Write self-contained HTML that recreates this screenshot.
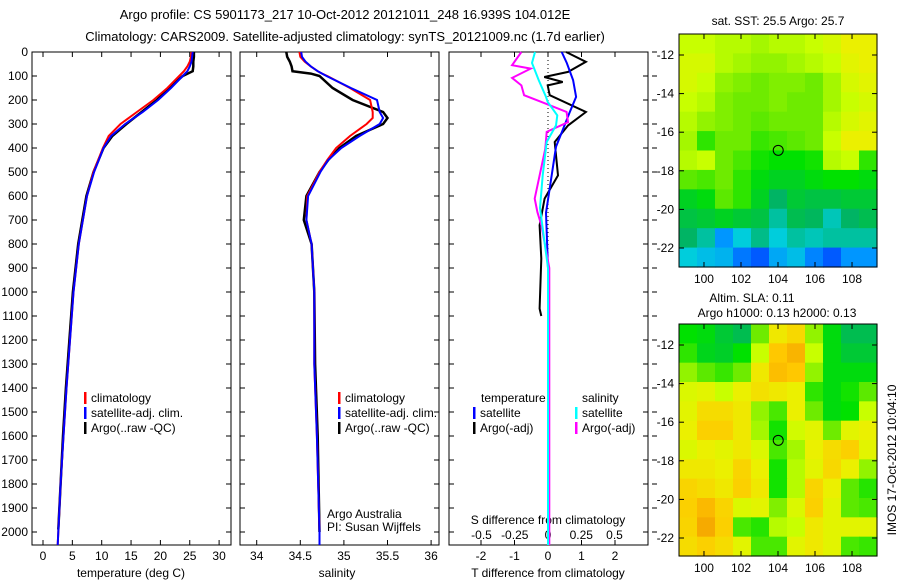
<!DOCTYPE html>
<html><head><meta charset="utf-8"><style>
html,body{margin:0;padding:0;background:#fff;}
svg{display:block;font-family:"Liberation Sans",sans-serif;}
text{font-size:12px;fill:#000;}
</style></head><body>
<svg id="fig" width="900" height="580" viewBox="0 0 900 580" xmlns="http://www.w3.org/2000/svg">
<text x="345" y="19" text-anchor="middle" style="font-size:13px">Argo profile: CS 5901173_217 10-Oct-2012 20121011_248 16.939S 104.012E</text>
<text x="345" y="41" text-anchor="middle" style="font-size:13px">Climatology: CARS2009. Satellite-adjusted climatology: synTS_20121009.nc (1.7d earlier)</text>
<g id="g"></g>
</svg>
<script>
// ---------- data ----------
const tDepth=[0,20,40,60,80,100,150,200,250,300,350,400,500,600,700,800,1000,1200,1400,1600,1800,2000,2060];
const tClim=[25.3,25.2,25.0,24.6,24.0,23.2,21.2,18.8,16.0,13.2,11.2,10.2,8.6,7.5,6.8,6.1,5.2,4.6,4.0,3.5,3.0,2.6,2.5];
const tSat=[25.5,25.4,25.3,25.0,24.6,23.8,21.8,19.6,17.0,14.0,11.6,10.3,8.7,7.5,6.8,6.1,5.2,4.6,4.0,3.5,3.0,2.6,2.5];
const tArgoDepth=[0,20,40,60,80,100,150,200,250,300,350,400,500,600,700,800,1000,1200,1400,1600,1800,1990];
const tArgo=[25.7,25.7,25.6,25.6,25.5,23.8,21.4,19.4,16.8,14.2,11.8,10.3,8.6,7.4,6.7,6.0,5.1,4.5,3.9,3.4,3.0,2.6];
const sDepth=[0,20,40,60,80,90,100,150,200,250,275,300,350,400,450,500,600,700,800,1000,1300,1600,2000,2060];
const sClim=[34.49,34.50,34.55,34.62,34.70,34.75,34.81,35.07,35.30,35.33,35.33,35.26,35.07,34.91,34.81,34.72,34.58,34.57,34.63,34.66,34.66,34.69,34.72,34.72];
const sSat=[34.51,34.52,34.56,34.62,34.70,34.75,34.80,35.08,35.38,35.41,35.45,35.41,35.18,34.97,34.82,34.73,34.59,34.57,34.63,34.66,34.66,34.69,34.72,34.72];
const sArgo=[34.34,34.35,34.38,34.40,34.41,34.62,34.72,34.87,35.10,35.45,35.50,35.45,35.14,34.95,34.82,34.72,34.57,34.54,34.63,34.66,34.67,34.70,34.72,34.72];
const dTSatDepth=[0,46,117,187,254,325,395,533,670,900,1300,2060];
const dTSat=[0.41,0.56,0.75,0.84,0.64,0.44,0.24,0.09,-0.06,0,0,0];
const dTArgoDepth=[0,41,83,104,125,139,180,250,306,375,514,611,722,861,1069,1100];
const dTArgo=[0.54,1.13,0.6,-0.11,0.44,-0.01,0.05,1.13,0.6,0.2,0.3,-0.1,-0.25,-0.2,-0.25,-0.2];
const dSSatDepth=[0,46,117,187,208,264,306,375,514,650,900,2060];
const dSSat=[-0.098,-0.12,-0.07,-0.015,-0.002,0.07,0.06,-0.01,-0.04,-0.06,0,0];
const dSArgoDepth=[0,55,69,108,139,180,208,250,292,333,403,611,667,722,900,2060];
const dSArgo=[-0.2,-0.27,-0.13,-0.27,-0.2,-0.18,-0.05,0.14,0.15,-0.01,-0.02,-0.1,-0.08,-0.05,0.01,0.01];
const depthTicks=[0,100,200,300,400,500,600,700,800,900,1000,1100,1200,1300,1400,1500,1600,1700,1800,1900,2000];
const tempTicks=[0,5,10,15,20,25,30];
const salTicks=[34,34.5,35,35.5,36];
const tdTicks=[-2,-1,0,1,2];
const sdTicks=[-0.5,-0.25,0,0.25,0.5];
const sdTickLabels=["-0.5","-0.25","0","0.25","0.5"];
const lonTicks=[100,102,104,106,108];
const latTicks=[-12,-14,-16,-18,-20,-22];
const sstGrid=[
[0.72,0.72,0.70,0.70,0.68,0.70,0.70,0.72,0.75,0.80,0.80],
[0.75,0.75,0.70,0.68,0.66,0.66,0.68,0.70,0.72,0.78,0.80],
[0.75,0.72,0.66,0.64,0.62,0.64,0.64,0.62,0.68,0.75,0.78],
[0.72,0.70,0.64,0.62,0.62,0.64,0.62,0.62,0.68,0.72,0.75],
[0.70,0.66,0.64,0.62,0.60,0.62,0.62,0.62,0.70,0.75,0.78],
[0.68,0.55,0.62,0.62,0.56,0.58,0.60,0.62,0.72,0.80,0.80],
[0.70,0.72,0.62,0.58,0.52,0.50,0.50,0.52,0.70,0.72,0.55],
[0.60,0.58,0.62,0.55,0.48,0.45,0.45,0.48,0.50,0.50,0.48],
[0.45,0.48,0.60,0.55,0.45,0.35,0.42,0.40,0.40,0.42,0.42],
[0.40,0.42,0.45,0.42,0.40,0.30,0.38,0.36,0.28,0.35,0.38],
[0.35,0.30,0.15,0.25,0.32,0.25,0.30,0.28,0.30,0.30,0.30],
[0.25,0.22,0.20,0.10,0.05,0.18,0.22,0.12,0.05,0.15,0.15]];
const slaGrid=[
[0.50,0.48,0.42,0.38,0.62,0.82,0.86,0.66,0.48,0.38,0.38],
[0.55,0.46,0.44,0.50,0.72,0.90,0.94,0.72,0.48,0.42,0.42],
[0.66,0.60,0.56,0.62,0.82,0.92,0.90,0.66,0.48,0.48,0.48],
[0.76,0.78,0.72,0.80,0.84,0.82,0.80,0.55,0.48,0.52,0.60],
[0.78,0.85,0.85,0.82,0.66,0.58,0.80,0.62,0.48,0.50,0.72],
[0.80,0.88,0.88,0.82,0.68,0.52,0.74,0.78,0.62,0.78,0.80],
[0.76,0.80,0.78,0.82,0.76,0.58,0.68,0.80,0.85,0.88,0.78],
[0.82,0.82,0.80,0.87,0.80,0.52,0.70,0.78,0.86,0.80,0.66],
[0.87,0.85,0.82,0.88,0.82,0.52,0.70,0.87,0.80,0.60,0.54],
[0.88,0.93,0.87,0.76,0.78,0.64,0.76,0.88,0.78,0.60,0.58],
[0.87,0.96,0.88,0.58,0.54,0.70,0.72,0.82,0.78,0.78,0.78],
[0.85,0.88,0.85,0.78,0.58,0.58,0.78,0.82,0.78,0.58,0.56]];
const argoLon=104.012, argoLat=-16.939;

// ---------- helpers ----------
const NS="http://www.w3.org/2000/svg";
const G=document.getElementById('g');
function mk(tag,attrs,parent){const e=document.createElementNS(NS,tag);for(const k in attrs)e.setAttribute(k,attrs[k]);(parent||G).appendChild(e);return e;}
function txt(s,x,y,anchor,name){const e=mk('text',{x:x,y:y,'text-anchor':anchor||'start'});e.textContent=s;


return e;}
const yD=d=>52+d*0.24;
const BOT=545;
const xT=t=>43+t*5.87;
const xS=s=>256.7+(s-34)*87.2;
const xTd=t=>548+t*33.5;
const xSd=s=>548+s*133;
function line(xs,ds,fx,color,name,w){
  const pts=xs.map((v,i)=>fx(v).toFixed(1)+','+Math.min(BOT,yD(ds[i])).toFixed(1)).join(' ');
  const p=mk('polyline',{points:pts,fill:'none',stroke:color,'stroke-width':w||2});
  
  
}
function frame(x0,x1,name){
  const r=mk('rect',{x:x0,y:52,width:x1-x0,height:BOT-52,fill:'none',stroke:'#000','stroke-width':1});
  
  
  depthTicks.forEach(d=>{mk('line',{x1:x0,x2:x0+5,y1:yD(d),y2:yD(d),stroke:'#000'});mk('line',{x1:x1,x2:x1-5,y1:yD(d),y2:yD(d),stroke:'#000'});});
}
// ---------- panel 1 temperature ----------
frame(32,231,'temperature-panel-frame');
depthTicks.forEach(d=>txt(String(d),28,yD(d)+4,'end','depth-tick-label'));
tempTicks.forEach(t=>{mk('line',{x1:xT(t),x2:xT(t),y1:52,y2:57,stroke:'#000'});mk('line',{x1:xT(t),x2:xT(t),y1:BOT,y2:BOT-5,stroke:'#000'});txt(String(t),xT(t),560,'middle','temperature-tick-label');});
txt('temperature (deg C)',131,577,'middle','temperature-axis-title');
line(tArgo,tArgoDepth,xT,'#000','temperature-argo-line',2.5);
line(tClim,tDepth,xT,'#f00','temperature-climatology-line');
line(tSat,tDepth,xT,'#00f','temperature-satellite-line');
// ---------- panel 2 salinity ----------
frame(240,439,'salinity-panel-frame');
salTicks.forEach(s=>{mk('line',{x1:xS(s),x2:xS(s),y1:52,y2:57,stroke:'#000'});mk('line',{x1:xS(s),x2:xS(s),y1:BOT,y2:BOT-5,stroke:'#000'});txt(String(s),xS(s),560,'middle','salinity-tick-label');});
txt('salinity',337,577,'middle','salinity-axis-title');
line(sArgo.slice(0,23),sDepth.slice(0,23),xS,'#000','salinity-argo-line',2.5);
line(sClim,sDepth,xS,'#f00','salinity-climatology-line');
line(sSat,sDepth,xS,'#00f','salinity-satellite-line');
txt('Argo Australia',327,518,'start','credit-argo-australia');
txt('PI: Susan Wijffels',327,531,'start','credit-pi');
// ---------- panel 3 differences ----------
frame(449,648,'difference-panel-frame');
mk('line',{x1:548,x2:548,y1:52,y2:BOT,stroke:'#000','stroke-dasharray':'1,3'});
tdTicks.forEach(t=>{mk('line',{x1:xTd(t),x2:xTd(t),y1:52,y2:57,stroke:'#000'});mk('line',{x1:xTd(t),x2:xTd(t),y1:BOT,y2:BOT-5,stroke:'#000'});txt(String(t),xTd(t),560,'middle','tdiff-tick-label');});
sdTicks.forEach((s,i)=>txt(sdTickLabels[i],xSd(s),539,'middle','sdiff-tick-label'));
txt('S difference from climatology',548,524,'middle','sdiff-axis-title');
txt('T difference from climatology',548,577,'middle','tdiff-axis-title');
line(dTArgo,dTArgoDepth,xTd,'#000','tdiff-argo-line');
line(dTSat,dTSatDepth,xTd,'#00f','tdiff-satellite-line');
line(dSArgo,dSArgoDepth,xSd,'#f0f','sdiff-argo-line');
line(dSSat,dSSatDepth,xSd,'#0ff','sdiff-satellite-line');
// right-side ticks
depthTicks.forEach(d=>mk('line',{x1:652,x2:657,y1:yD(d),y2:yD(d),stroke:'#000'}));
// ---------- legends ----------
function leg(x,y,color,label,name){mk('rect',{x:x,y:y-10,width:2.5,height:12,fill:color});txt(label,x+7,y,'start',name);}
leg(84,402,'#f00','climatology','legend-climatology');
leg(84,417,'#00f','satellite-adj. clim.','legend-satellite');
leg(84,432,'#000','Argo(..raw -QC)','legend-argo');
leg(338,402,'#f00','climatology','legend2-climatology');
leg(338,417,'#00f','satellite-adj. clim.','legend2-satellite');
leg(338,432,'#000','Argo(..raw -QC)','legend2-argo');
txt('temperature',481,402,'start','legend-temperature-header');
txt('salinity',582,402,'start','legend-salinity-header');
leg(473,417,'#00f','satellite','legend-t-satellite');
leg(473,432,'#000','Argo(-adj)','legend-t-argo');
leg(575,417,'#0ff','satellite','legend-s-satellite');
leg(575,432,'#f0f','Argo(-adj)','legend-s-argo');
// ---------- maps ----------
const stops=[[0,[0,60,255]],[0.15,[0,150,255]],[0.25,[0,205,220]],[0.35,[0,180,100]],[0.5,[0,225,0]],[0.62,[110,235,0]],[0.72,[200,255,0]],[0.8,[235,240,0]],[0.9,[255,200,0]],[1,[240,150,0]]];
function cmap(v){for(let i=1;i<stops.length;i++){if(v<=stops[i][0]){const a=stops[i-1],b=stops[i],f=(v-a[0])/(b[0]-a[0]);const c=a[1].map((q,j)=>Math.round(q+(b[1][j]-q)*f));return 'rgb('+c.join(',')+')';}}return 'rgb(240,150,0)';}
const mapX0=679,mapX1=877,lonL=98.65,lonR=109.35;
const xLon=l=>mapX0+(l-lonL)*(mapX1-mapX0)/(lonR-lonL);
function drawMap(grid,y0,y1,name,ylat12){
  const yLat=la=>ylat12+(-12-la)*19.3;
  const rows=grid.length,cols=grid[0].length,cw=(mapX1-mapX0)/cols,ch=(y1-y0)/rows;
  grid.forEach((row,r)=>row.forEach((v,c)=>{const e=mk('rect',{x:(mapX0+c*cw).toFixed(2),y:(y0+r*ch).toFixed(2),width:(cw+0.6).toFixed(2),height:(ch+0.6).toFixed(2),fill:cmap(v)});
    
    }));
  const f=mk('rect',{x:mapX0,y:y0,width:mapX1-mapX0,height:y1-y0,fill:'none',stroke:'#000'});
  
  
  latTicks.forEach(la=>{const y=yLat(la);mk('line',{x1:mapX0,x2:mapX0+5,y1:y,y2:y,stroke:'#000'});mk('line',{x1:mapX1,x2:mapX1-5,y1:y,y2:y,stroke:'#000'});txt(String(la),674,y+4,'end',name+'-lat-label');});
  lonTicks.forEach(lo=>{const x=xLon(lo);mk('line',{x1:x,x2:x,y1:y0,y2:y0+5,stroke:'#000'});mk('line',{x1:x,x2:x,y1:y1,y2:y1-5,stroke:'#000'});txt(String(lo),x,y1+16,'middle',name+'-lon-label');});
  const c=mk('circle',{cx:xLon(argoLon),cy:yLat(argoLat),r:5,fill:'none',stroke:'#000'});
  
  
}
drawMap(sstGrid,34,267,'sst-map',55);
drawMap(slaGrid,324,556,'sla-map',345);
txt('sat. SST: 25.5 Argo: 25.7',778,25,'middle','sst-map-title');
txt('Altim. SLA: 0.11',752,302,'middle','sla-map-title');
txt('Argo h1000: 0.13 h2000: 0.13',777,317,'middle','sla-map-subtitle');
const r=txt('IMOS 17-Oct-2012 10:04:10',0,0,'middle','imos-timestamp');
r.setAttribute('transform','translate(896,460) rotate(-90)');
</script>
</body></html>
